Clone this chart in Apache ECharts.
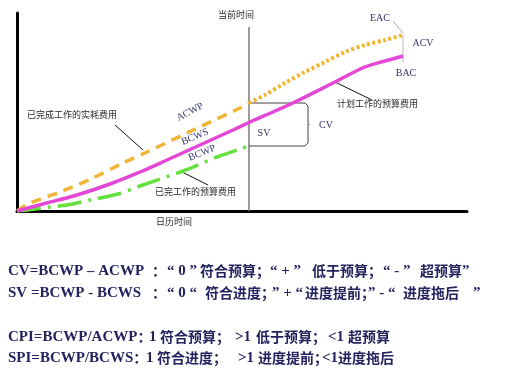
<!DOCTYPE html>
<html><head><meta charset="utf-8">
<script src="https://cdn.jsdelivr.net/npm/echarts@6/dist/echarts.min.js"></script>
<style>html,body{margin:0;padding:0;background:#fff}#c{width:513px;height:370px}</style>
</head><body><div id="c"></div>
<script>
// ---- data (x: calendar time units, y: cost units) ----
const acwp = [[0,0],[13,8],[43,19],[76,33],[106,48],[130,59],[170,78],[223,103],[232,108]];
const eac  = [[232,108],[248,116],[268,128],[288,139],[308,149],[328,159],[348,166],[368,171],[386,176]];
const bcws = [[0,0],[26,7],[60,16],[93,27],[123,39],[150,51],[183,66],[216,81],[233,89],[256,99],[278,109],[318,129],[348,144],[368,150],[386,155]];
const bcwp = [[0,0],[18,2],[33,4],[50,6],[73,11],[101,17],[123,25],[166,40],[200,54],[223,62],[232,65]];
const currentTime = 232;
const currentTimeTop = 184;
const seriesNames = ['ACWP','BCWS','BCWP'];
const endLabels = ['EAC','ACV','BAC'];
const axisNames = ['当前时间','日历时间'];
const notes = ['已完成工作的实耗费用','已完工作的预算费用','计划工作的预算费用'];
const varianceLabels = ['SV','CV'];
const line1 = ['CV=BCWP – ACWP','：','“ 0 ”','符合预算；','“ + ”','低于预算；','“ - ”','超预算”'];
const line2 = ['SV =BCWP - BCWS','：','“ 0 “','符合进度；','” + “','进度提前；','” - “','进度拖后','”'];
const line3 = ['CPI=BCWP/ACWP：','1','符合预算；','>1','低于预算；','<1','超预算'];
const line4 = ['SPI=BCWP/BCWS：','1','符合进度；','>1','进度提前；','<1进度拖后'];

const chart = echarts.init(document.getElementById('c'));
const navy = '#23235f';
const thin = (data, color, w) => ({type:'line', data, symbol:'none', silent:true, z:1,
  lineStyle:{color, width:w||1}});

const accAtT = acwp[acwp.length-1][1];
const bcwpAtT = bcwp[bcwp.length-1][1];
const bx = currentTime + 56;

// split a string into latin / CJK runs for rich text
const toRich = s => s.replace(/([\u3000-\u303f\u4e00-\u9fff\uff00-\uffef]+)|([^\u3000-\u303f\u4e00-\u9fff\uff00-\uffef]+)/g,
  (m, c, a) => c ? '{c|' + c + '}' : '{a|' + a + '}');
const seg = (texts, xs, y) => texts.map((t,i)=>({type:'text', x: xs[i], y: y,
  style:{text:toRich(t), fill:navy, verticalAlign:'middle',
    rich:{a:{fill:navy, fontFamily:'Liberation Serif', fontWeight:'bold', fontSize:15},
          c:{fill:navy, fontFamily:'Noto Sans CJK SC', fontWeight:'bold', fontSize:14}}}}));

const lbl = (t, x, y) => ({type:'text', x, y,
  style:{text:t, fill:'#2a2a2a', font:"9px 'Noto Sans CJK SC'", align:'left', verticalAlign:'middle'}});
const serifLbl = (t, x, y, rot) => ({type:'text', x, y, rotation: rot||0,
  style:{text:t, fill:'#33336e', font:"10px 'Liberation Serif'", align:'center', verticalAlign:'middle'}});

chart.setOption({
  animation:false,
  grid:{left:17, right:46, top:13, bottom:159},
  xAxis:{type:'value', min:0, max:450, axisLine:{lineStyle:{color:'#000', width:3}},
    axisTick:{show:false}, axisLabel:{show:false}, splitLine:{show:false}},
  yAxis:{type:'value', min:0, max:198, axisLine:{show:true, lineStyle:{color:'#000', width:3}},
    axisTick:{show:false}, axisLabel:{show:false}, splitLine:{show:false}},
  series:[
    thin([[currentTime,0],[currentTime,currentTimeTop]], '#7a7a7a', 1.5),
    thin([[currentTime,accAtT],[bx,accAtT],[bx+3,accAtT-3],[bx+3,bcwpAtT+3],[bx,bcwpAtT],[currentTime,bcwpAtT]], '#444', 1),
    thin([[bx+3,(accAtT+bcwpAtT)/2],[bx+5,(accAtT+bcwpAtT)/2]], '#888', 1),
    thin([[376,190],[386,178]], '#aaa', 1),
    thin([[386,176],[386,149]], '#bbb', 1),
    thin([[98,86],[126,61]], '#111', 1),
    thin([[165,39],[191,26]], '#111', 1),
    thin([[318,129],[355,111]], '#111', 1),
    {name:'ACWP', type:'line', data:acwp, symbol:'none', smooth:0.3, z:3,
      lineStyle:{color:'#f0b437', width:3.5, type:[10,7], cap:'butt'}},
    {name:'EAC', type:'line', data:eac, symbol:'none', smooth:0.3, z:3,
      lineStyle:{color:'#efb632', width:4, type:[3,2.5], cap:'butt'}},
    {name:'BCWS', type:'line', data:bcws, symbol:'none', smooth:0.4, z:4,
      lineStyle:{color:'#e446d6', width:3.5}},
    {name:'BCWP', type:'line', data:bcwp, symbol:'none', smooth:0.3, z:3,
      lineStyle:{color:'#66e03e', width:3.5, type:[24,7,3,7], cap:'butt'}}
  ],
  graphic:[
    lbl(axisNames[0], 218, 15),
    lbl(axisNames[1], 156, 222),
    lbl(notes[0], 27, 115),
    lbl(notes[1], 155, 192),
    lbl(notes[2], 337, 104),
    serifLbl(seriesNames[0], 190, 112, 0.48),
    serifLbl(seriesNames[1], 195, 137, 0.40),
    serifLbl(seriesNames[2], 202, 153, 0.38),
    serifLbl(endLabels[0], 380, 18),
    serifLbl(endLabels[1], 423, 43),
    serifLbl(endLabels[2], 406, 73),
    serifLbl(varianceLabels[0], 264, 133),
    serifLbl(varianceLabels[1], 326, 125),
    ...seg(line1, [8,152,167,200,270,312,383,420], 271),
    ...seg(line2, [8,152,167,205,272,305,368,403,473], 293),
    ...seg(line3, [8,149,160,235,256,328,348], 337),
    ...seg(line4, [8,146,157,238,258,322], 358)
  ]
});
</script></body></html>
